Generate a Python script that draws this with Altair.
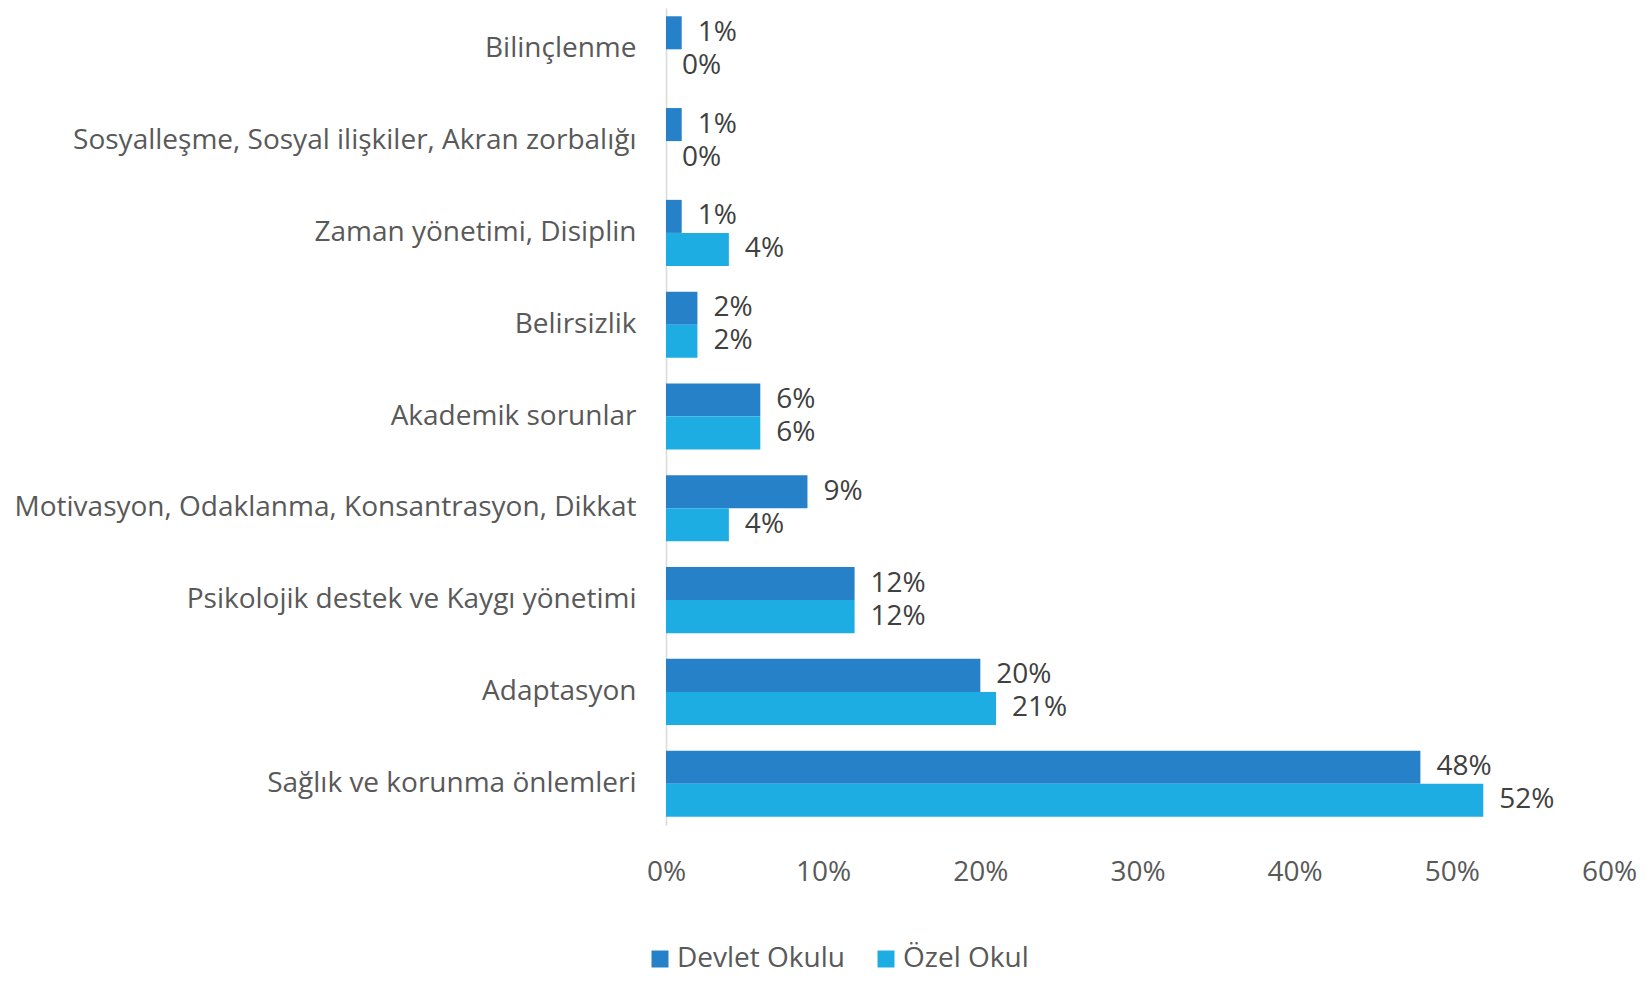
import altair as alt
import pandas as pd

categories = [
    "Bilinçlenme",
    "Sosyalleşme, Sosyal ilişkiler, Akran zorbalığı",
    "Zaman yönetimi, Disiplin",
    "Belirsizlik",
    "Akademik sorunlar",
    "Motivasyon, Odaklanma, Konsantrasyon, Dikkat",
    "Psikolojik destek ve Kaygı yönetimi\u00a0",
    "Adaptasyon",
    "Sağlık ve korunma önlemleri\u00a0",
]
series = ["Devlet Okulu", "Özel Okul"]
devlet = [1, 1, 1, 2, 6, 9, 12, 20, 48]
ozel = [0, 0, 4, 2, 6, 4, 12, 21, 52]
colors = ["#2681C8", "#1EADE3"]
x_ticks = [0, 10, 20, 30, 40, 50, 60]

rows = []
for c, d, o in zip(categories, devlet, ozel):
    rows.append({"kategori": c, "seri": series[0], "deger": d})
    rows.append({"kategori": c, "seri": series[1], "deger": o})
df = pd.DataFrame(rows)

FONT = "Open Sans"
FS = 28

y_enc = alt.Y(
    "kategori:N",
    sort=categories,
    scale=alt.Scale(paddingInner=0.28, paddingOuter=0.09),
    axis=alt.Axis(
        title=None, ticks=False, domainColor="#d9d9d9", domainWidth=1.5,
        labelPadding=30, labelFontSize=FS, labelColor="#595959",
        labelLimit=0, labelFont=FONT,
    ),
)
yoff = alt.YOffset("seri:N", sort=series, scale=alt.Scale(paddingInner=0, paddingOuter=0))
x_enc = alt.X(
    "deger:Q",
    scale=alt.Scale(domain=[0, 60], nice=False),
    axis=alt.Axis(
        title=None, grid=False, domain=False, ticks=False, values=x_ticks,
        labelExpr="datum.value + '%'", labelPadding=33, labelFontSize=FS,
        labelColor="#595959", labelFont=FONT, labelFlush=False,
    ),
)

bars = alt.Chart(df).mark_bar().encode(
    y=y_enc,
    yOffset=yoff,
    x=x_enc,
    color=alt.Color(
        "seri:N",
        sort=series,
        scale=alt.Scale(domain=series, range=colors),
        legend=alt.Legend(
            title=None, orient="none", legendX=-20, legendY=937,
            direction="horizontal", symbolType="square", symbolSize=289,
            symbolStrokeWidth=0, labelFontSize=FS, labelColor="#595959",
            labelFont=FONT, columnPadding=27, labelOffset=3, padding=0,
            labelLimit=0,
        ),
    ),
)

labels = alt.Chart(df).transform_calculate(
    lab="datum.deger + '%'"
).mark_text(
    align="left", baseline="middle", dx=16, fontSize=FS, font=FONT, color="#404040"
).encode(
    y=alt.Y("kategori:N", sort=categories),
    yOffset=alt.YOffset("seri:N", sort=series),
    x=alt.X("deger:Q"),
    text="lab:N",
)

chart = alt.layer(bars, labels).properties(
    width=943,
    height=817,
    autosize=alt.AutoSizeParams(type="none"),
    padding={"left": 658, "top": 0, "right": 32, "bottom": 154},
).configure(font=FONT).configure_view(strokeWidth=0, stroke=None)

chart.save("out.html", embed_options={"renderer": "svg", "actions": False})
